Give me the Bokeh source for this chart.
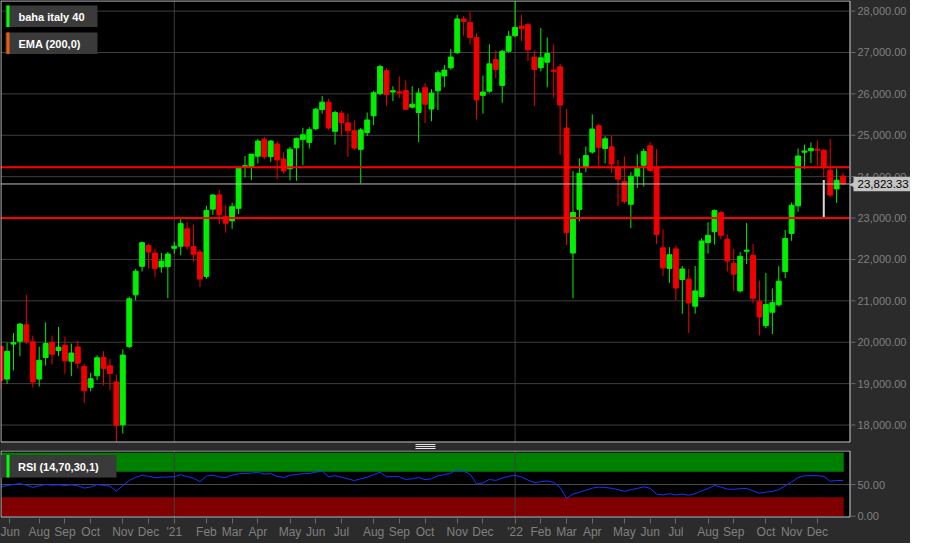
from bokeh.plotting import figure
from bokeh.models import ColumnDataSource, FixedTicker, Range1d, Label, BoxAnnotation
from bokeh.core.properties import value
from bokeh.layouts import column
from bokeh.embed import file_html
from bokeh.resources import INLINE

# ---------------- data (weekly candles, Jun 2020 - Dec 2022) ----------------
opens = [19900, 19110, 19955, 20025, 20420, 20010, 19110, 19630, 19995, 19800,
         19925, 19540, 19885, 19415, 18910, 19190, 19635, 19430, 19040, 18005,
         19895, 21145, 21835, 22335, 22155, 21820, 21825, 22270, 22320, 22740,
         22310, 22180, 21590, 23215, 23560, 23040, 22935, 23235, 24225, 24225,
         24495, 24905, 24485, 24790, 24425, 24190, 24695, 24900, 24830, 25160,
         25620, 25800, 25095, 25535, 25300, 25110, 24660, 25065, 25470, 26005,
         26560, 26045, 26050, 26080, 25680, 25550, 26150, 25635, 26075, 26435,
         26630, 26995, 27810, 27725, 27360, 25965, 26065, 26830, 26205, 27030,
         27405, 27640, 27670, 26890, 26630, 26765, 26575, 26655, 25175, 22155,
         23210, 24245, 24595, 25230, 24680, 24720, 24210, 23885, 23335, 24015,
         24275, 24745, 24210, 22280, 21785, 22255, 21515, 21525, 20870, 21100,
         22410, 22670, 23135, 22490, 21905, 21240, 22200, 22100, 20980, 20400,
         20725, 20905, 21710, 22630, 23295, 24590, 24625, 24665, 24640, 24155,
         23705, 24015]
highs = [19920, 19990, 20220, 20460, 21145, 20160, 19890, 20480, 20160, 20370,
         20135, 19965, 20035, 19480, 19265, 19685, 19785, 19595, 19220, 19830,
         21100, 21770, 22430, 22380, 22255, 22160, 22180, 22430, 22975, 22900,
         22840, 22240, 23295, 23585, 23680, 23320, 23370, 24210, 24500, 24550,
         24915, 24965, 24885, 24845, 24590, 24720, 24945, 25180, 25195, 25660,
         25950, 25880, 25595, 25590, 25525, 25360, 25175, 25550, 26075, 26705,
         26620, 26185, 26420, 26325, 26185, 26135, 26255, 26115, 26565, 26700,
         27085, 27905, 27875, 27990, 27460, 26440, 27195, 27050, 27065, 27520,
         28240, 27910, 27715, 27050, 27590, 27360, 27195, 26730, 25635, 24135,
         24445, 24730, 25505, 25270, 24980, 24980, 24405, 24485, 24110, 24540,
         24680, 24835, 24665, 22725, 22295, 22335, 21840, 21770, 21840, 22515,
         22900, 23210, 23180, 22605, 22255, 22180, 22880, 22370, 21490, 21670,
         21300, 21840, 22710, 23375, 24680, 24775, 24825, 24875, 24665, 24915,
         24195, 24095]
lows = [18870, 18990, 19320, 19660, 19950, 18910, 18930, 19440, 19460, 19670,
        19235, 19180, 19360, 18535, 18815, 19085, 18955, 18840, 17595, 17795,
        19860, 21010, 21710, 21785, 21575, 21680, 21065, 22140, 22100, 22240,
        21945, 21335, 21535, 23075, 22850, 22645, 22740, 23095, 23980, 23920,
        24320, 24425, 24360, 23940, 24070, 23915, 23900, 24275, 24680, 25120,
        25525, 25130, 24775, 24970, 24480, 24640, 23835, 24985, 25245, 25965,
        25715, 25825, 25905, 25610, 25650, 24835, 25290, 25340, 25610, 26160,
        26585, 26965, 27405, 27200, 25385, 25525, 26025, 26380, 25785, 26995,
        27370, 27280, 26795, 25710, 26545, 26160, 25910, 24525, 22350, 21065,
        22920, 24110, 24555, 24195, 24320, 24095, 23295, 23350, 22755, 23720,
        23765, 24120, 22370, 21605, 21435, 21020, 20685, 20225, 20690, 21080,
        22140, 22360, 22490, 21710, 21240, 21200, 21890, 20940, 20165, 20340,
        20200, 20865, 21550, 22450, 23155, 24190, 24330, 24265, 23980, 23510,
        23365, 23795]
closes = [19080, 19780, 19990, 20440, 20010, 19040, 19565, 19970, 19710, 19880,
          19550, 19740, 19495, 18830, 19120, 19625, 19370, 19245, 17995, 19690,
          21050, 21715, 22405, 22180, 21785, 21960, 22130, 22320, 22865, 22320,
          22125, 21525, 23185, 23555, 23085, 22875, 23275, 24205, 24265, 24545,
          24860, 24480, 24860, 24405, 24140, 24665, 24925, 25010, 25135, 25630,
          25800, 25175, 25550, 25305, 25110, 24690, 25130, 25370, 26025, 26660,
          25985, 26075, 26020, 25630, 25750, 26020, 25750, 26020, 26510, 26575,
          26890, 27810, 27750, 27360, 25855, 26045, 26725, 26590, 27030, 27390,
          27605, 27575, 27065, 26590, 26870, 26975, 26545, 25730, 22645, 23135,
          24080, 24510, 25150, 24710, 24915, 24305, 23940, 23405, 24010, 24205,
          24610, 24150, 22605, 21795, 22115, 21310, 21770, 20950, 21240, 22445,
          22585, 23180, 22585, 21965, 21645, 22075, 22225, 21060, 20610, 20910,
          20955, 21475, 22505, 23310, 24500, 24620, 24680, 24640, 24250, 23555,
          23915, 23823.33]
rsi = [46, 48.5, 50, 51.5, 49, 45.5, 48, 50, 49, 49.5,
       48.5, 49.5, 48, 44.5, 46, 50, 48.5, 47.5, 39.5, 48.5,
       56.5, 61.5, 64.5, 63, 61, 61.5, 62, 62.3, 65.4, 62.5,
       60, 54.6, 63.3, 64.8, 62, 61, 65, 67, 67.5, 68,
       69.4, 66.4, 67.4, 63, 61.3, 64.5, 66, 67, 67.5, 69.5,
       71, 62.3, 64, 61.5, 59, 56.2, 59, 61.7, 65.5, 69.4,
       62.3, 62.5, 62.3, 58, 59, 61.3, 57.7, 59, 63.9, 65.5,
       68, 73.7, 71, 66.5, 51, 52.5, 58, 56.5, 60.3, 63,
       64.4, 62, 57, 53, 54.5, 55.7, 53.5, 45.4, 28.4, 35,
       37.6, 41, 44.3, 45.9, 45.5, 44, 42, 39.2, 42, 43.8,
       46.4, 44, 35, 33.5, 35.5, 33.5, 35, 33, 35.6, 40,
       43.8, 48.5, 46, 42.8, 42.5, 43.5, 43.8, 40, 36.6, 38,
       39.2, 42, 48, 54, 61, 63.9, 64, 64, 63, 55.1,
       56.5, 56.2]

# month ticks = week index of the first weekly candle of each month
month_ticks = [1.4, 6, 10, 14, 19, 23, 27, 32, 36, 40, 45, 49, 53, 58, 62,
               66, 71, 75, 80, 84, 88, 92, 97, 101, 105, 110, 114, 119, 123, 127]
month_labels = ["Jun", "Aug", "Sep", "Oct", "Nov", "Dec", "'21", "Feb", "Mar", "Apr",
                "May", "Jun", "Jul", "Aug", "Sep", "Oct", "Nov", "Dec", "'22", "Feb",
                "Mar", "Apr", "May", "Jun", "Jul", "Aug", "Sep", "Oct", "Nov", "Dec"]
year_ticks = [27, 80]
price_ticks = [18000, 19000, 20000, 21000, 22000, 23000, 24000, 25000, 26000, 27000, 28000]
rsi_ticks = [0, 50]
level_lines = [24227, 23000]
last_price = 23823.33
marker_week, marker_low, marker_high = 128, 23000, 23920
rsi_upper, rsi_lower = 70, 30
symbol_name = "baha italy 40"
ema_name = "EMA (200,0)"
rsi_name = "RSI (14,70,30,1)"

# ---------------- layout constants (pixels) ----------------
W = 910            # canvas width (frame spans it; price scale drawn inside)
PW = 849           # width of the black plotting pane
FH, GAP = 442, 8   # price pane height, gap under it
RFH, EXT = 67, 6   # RSI pane height, extra strip under it
X0, X1 = -0.02, 132.0          # week index at px 0 and px PW
Y0, Y1 = 17578, 28256          # price at bottom / top of the price pane
RY0, RY1 = -2.0, 103.7         # RSI at bottom / top of the RSI pane
XR = X0 + W * (X1 - X0) / PW
YB = Y1 - (FH + GAP) * (Y1 - Y0) / FH
RYB = RY1 - (RFH + EXT) * (RY1 - RY0) / RFH
BG = "#2b2b2b"
GRID = "#3e3e3e"
OUTLINE = "#c9ced6"
TXT = "#808080"
TICK = "#6a6a6a"
GREEN = "#00f000"
RED = "#f00000"
FONT = "Liberation Sans"


def fx(px):
    return X0 + px * (X1 - X0) / PW


def fy(py):
    return Y1 - py * (Y1 - Y0) / FH


def ry(py):
    return RY1 - py * (RY1 - RY0) / RFH


UPY = (Y1 - Y0) / FH

idx = list(range(len(closes)))
colors = [GREEN if c >= o else RED for o, c in zip(opens, closes)]
src = ColumnDataSource(dict(
    x=idx, o=opens, h=highs, l=lows, c=closes,
    top=[max(o, c) for o, c in zip(opens, closes)],
    bottom=[min(o, c) for o, c in zip(opens, closes)],
    color=colors))

# ---------------- price pane ----------------
p = figure(frame_width=W, frame_height=FH + GAP, x_range=Range1d(X0, XR), y_range=Range1d(YB, Y1),
           output_backend="svg", toolbar_location=None, x_axis_location=None,
           y_axis_location=None, min_border=0, background_fill_color=BG,
           border_fill_color=BG, outline_line_color=None)
for g in p.grid:
    g.visible = False

p.quad(left=[fx(0)], right=[fx(PW)], bottom=[Y0], top=[Y1], fill_color="black", line_color=None)
p.segment(x0=[X0] * len(price_ticks), x1=[fx(PW)] * len(price_ticks), y0=price_ticks, y1=price_ticks,
          line_color=GRID, line_width=1)
p.segment(x0=year_ticks, x1=year_ticks, y0=[Y0] * len(year_ticks), y1=[Y1] * len(year_ticks),
          line_color=GRID, line_width=1)

p.segment(x0="x", y0="h", x1="x", y1="l", source=src, line_color="color", line_width=1)
p.vbar(x="x", width=0.76, top="top", bottom="bottom", source=src,
       fill_color="color", line_color="color", line_width=1)
p.segment(x0=[marker_week], y0=[marker_low], x1=[marker_week], y1=[marker_high],
          line_color="#d8d8d8", line_width=2)

p.segment(x0=[X0] * len(level_lines), x1=[fx(PW)] * len(level_lines), y0=level_lines, y1=level_lines,
          line_color="#ff0000", line_width=2)
p.segment(x0=[X0], x1=[fx(PW)], y0=[last_price], y1=[last_price], line_color="#bdbdbd", line_width=1)

# pane border
p.quad(left=[fx(0.5)], right=[fx(PW + 0.5)], bottom=[fy(FH - 0.5)], top=[fy(0.5)],
       fill_color=None, line_color=OUTLINE, line_width=1)

# price scale (right)
p.segment(x0=[fx(PW + 1)] * len(price_ticks), x1=[fx(PW + 6)] * len(price_ticks),
          y0=price_ticks, y1=price_ticks, line_color=TICK, line_width=1)
p.text(x=[fx(PW + 8)] * len(price_ticks), y=price_ticks,
       text=["{:,.2f}".format(t) for t in price_ticks],
       text_font=value(FONT), text_font_size="11px", text_color=TXT,
       text_align="left", text_baseline="middle")

# last price tag
p.add_layout(BoxAnnotation(left=fx(PW + 4), right=fx(W), top=last_price + 7.2 * UPY,
                           bottom=last_price - 7.2 * UPY, fill_color="#c4c4c4", fill_alpha=1,
                           line_color=None))
p.add_layout(Label(x=fx(PW - 0.5), y=last_price, text="\u25C0", text_color="#c4c4c4",
                   text_font_size="9px", text_baseline="middle"))
p.add_layout(Label(x=fx(PW + 8), y=last_price, text="{:,.2f}".format(last_price),
                   text_color="black", text_font=FONT, text_font_size="11.5px",
                   text_baseline="middle"))

# legend boxes
p.add_layout(BoxAnnotation(left=fx(5), right=fx(97), top=fy(5), bottom=fy(26.5),
                           fill_color="#3a3a3a", fill_alpha=1, line_color=None))
p.add_layout(BoxAnnotation(left=fx(6), right=fx(9), top=fy(5), bottom=fy(26.5),
                           fill_color="#00ff00", fill_alpha=1, line_color=None))
p.add_layout(Label(x=fx(18), y=fy(16), text=symbol_name, text_color="white",
                   text_font=FONT, text_font_style="bold",
                   text_font_size="11px", text_baseline="middle"))
p.add_layout(BoxAnnotation(left=fx(5), right=fx(97), top=fy(32), bottom=fy(53.5),
                           fill_color="#3a3a3a", fill_alpha=1, line_color=None))
p.add_layout(BoxAnnotation(left=fx(6), right=fx(9), top=fy(32), bottom=fy(53.5),
                           fill_color="#ee5a0e", fill_alpha=1, line_color=None))
p.add_layout(Label(x=fx(18), y=fy(43), text=ema_name, text_color="white",
                   text_font=FONT, text_font_style="bold",
                   text_font_size="11px", text_baseline="middle"))

# drag handle between panes (three short strokes)
handle_rows = [fy(FH + 2), fy(FH + 4), fy(FH + 6)]
p.segment(x0=[fx(415)] * 3, x1=[fx(435)] * 3, y0=handle_rows, y1=handle_rows,
          line_color="#e6e6e6", line_width=1)

# ---------------- RSI pane ----------------
r = figure(frame_width=W, frame_height=RFH + EXT, x_range=p.x_range, y_range=Range1d(RYB, RY1),
           output_backend="svg", toolbar_location=None, y_axis_location=None,
           min_border_left=0, min_border_right=0, min_border_top=0, min_border_bottom=20,
           background_fill_color=BG, border_fill_color=BG, outline_line_color=None)
for g in r.grid:
    g.visible = False

r.quad(left=[fx(0)], right=[fx(PW)], bottom=[RY0], top=[RY1], fill_color="black", line_color=None)
r.quad(left=[0.1], right=[len(closes) - 0.9], bottom=[rsi_upper], top=[100],
       fill_color="#008000", line_color=None)
r.quad(left=[0.1], right=[len(closes) - 0.9], bottom=[0], top=[rsi_lower],
       fill_color="#800000", line_color=None)
r.segment(x0=[X0], x1=[fx(PW)], y0=[50], y1=[50], line_color="#4a4a4a", line_width=1)
r.segment(x0=year_ticks, x1=year_ticks, y0=[RY0] * len(year_ticks), y1=[RY1] * len(year_ticks),
          line_color=GRID, line_width=1)
r.line(idx, rsi, line_color="#1434ff", line_width=1)
r.quad(left=[fx(0.5)], right=[fx(PW + 0.5)], bottom=[ry(RFH - 0.5)], top=[ry(0.5)],
       fill_color=None, line_color=OUTLINE, line_width=1)

r.segment(x0=[fx(PW + 1)] * len(rsi_ticks), x1=[fx(PW + 6)] * len(rsi_ticks),
          y0=rsi_ticks, y1=rsi_ticks, line_color=TICK, line_width=1)
r.text(x=[fx(PW + 8)] * len(rsi_ticks), y=rsi_ticks,
       text=["{:.2f}".format(t) for t in rsi_ticks],
       text_font=value(FONT), text_font_size="11px", text_color=TXT,
       text_align="left", text_baseline="middle")

r.xaxis.ticker = FixedTicker(ticks=month_ticks)
r.xaxis.major_label_overrides = {t: lab for t, lab in zip(month_ticks, month_labels)}
r.xaxis.axis_line_color = None
r.xaxis.major_tick_line_color = TICK
r.xaxis.major_tick_out = 0
r.xaxis.major_tick_in = EXT - 1
r.xaxis.minor_tick_line_color = None
r.xaxis.major_label_standoff = 1
r.xaxis.major_label_text_color = TXT
r.xaxis.major_label_text_font = "'Liberation Sans Narrow', 'Arial Narrow', 'Liberation Sans'"
r.xaxis.major_label_text_font_size = "12px"

r.add_layout(BoxAnnotation(left=fx(0), right=fx(116), top=ry(4.5), bottom=ry(27),
                           fill_color="#3a3a3a", fill_alpha=1, line_color=None))
r.add_layout(BoxAnnotation(left=fx(6), right=fx(9), top=ry(4.5), bottom=ry(27),
                           fill_color="#00ff00", fill_alpha=1, line_color=None))
r.add_layout(Label(x=fx(17.5), y=ry(16), text=rsi_name, text_color="white",
                   text_font=FONT, text_font_style="bold",
                   text_font_size="11px", text_baseline="middle"))

layout = column(p, r, spacing=0, styles={"background-color": BG})
open("out.html", "w").write(file_html(layout, INLINE))
